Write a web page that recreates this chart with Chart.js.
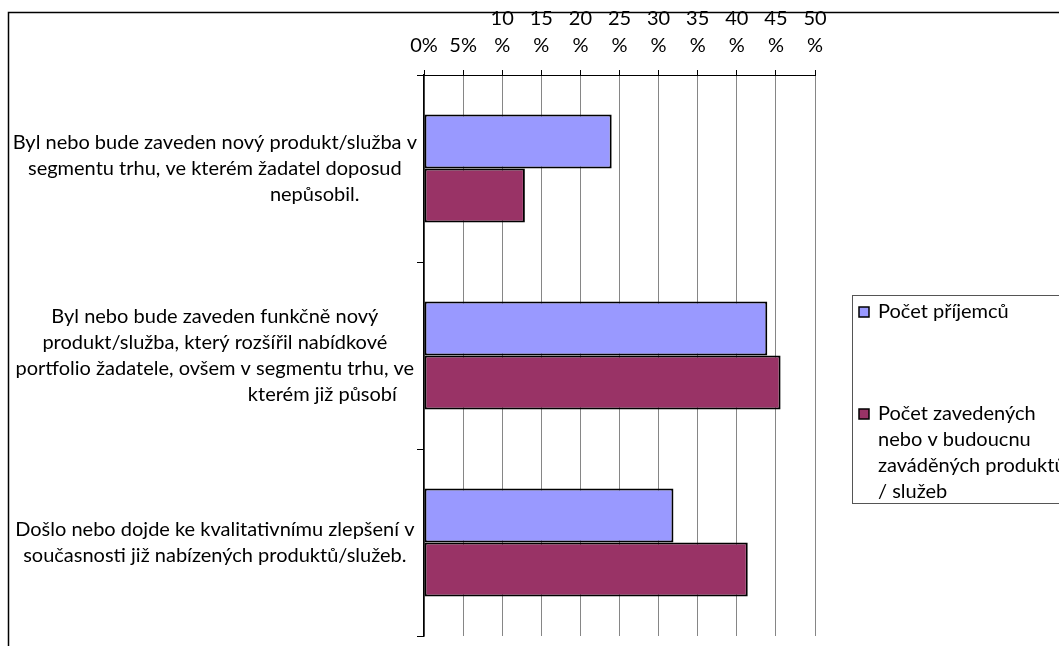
<!DOCTYPE html>
<html>
<head>
<meta charset="utf-8">
<script src="https://cdn.jsdelivr.net/npm/chart.js@4/dist/chart.umd.min.js"></script>
<style>
  body { margin: 0; background: #fff; }
  canvas { display: block; }
</style>
</head>
<body>
<canvas id="myChart" width="1059" height="646"></canvas>
<script>
/*--------------------------------------------------------------------------------
----- DATA
--------------------------------------------------------------------------------*/

const categories = [
  ['Byl nebo bude zaveden nový produkt/služba v', 'segmentu trhu, ve kterém žadatel doposud', 'nepůsobil.'],
  ['Byl nebo bude zaveden funkčně nový', 'produkt/služba, který rozšířil nabídkové', 'portfolio žadatele, ovšem v segmentu trhu, ve', 'kterém již působí'],
  ['Došlo nebo dojde ke kvalitativnímu zlepšení v', 'současnosti již nabízených produktů/služeb.']
];

const seriesNames = [
  ['Počet příjemců'],
  ['Počet zavedených', 'nebo v budoucnu', 'zaváděných produktů', '/ služeb']
];

const prijemci = [24.0, 43.9, 31.9];
const produkty = [12.9, 45.6, 41.4];

const xTickValues = [0, 5, 10, 15, 20, 25, 30, 35, 40, 45, 50];
const xTickLabels = ['0%', '5%', ['10', '%'], ['15', '%'], ['20', '%'], ['25', '%'], ['30', '%'], ['35', '%'], ['40', '%'], ['45', '%'], ['50', '%']];

const FONT = 'Lato';
const FSIZE = 20;

// the wrapped last line of some labels sits right of the block centre (as in the original)
const lastLineShift = [100, 108, 0];

const measure = document.createElement('canvas').getContext('2d');
measure.font = FSIZE + 'px ' + FONT;
const spaceW = measure.measureText(' ').width;

function categoryLabel(i) {
  const lines = categories[i].slice();
  const n = Math.round(2 * lastLineShift[i] / spaceW);
  lines[lines.length - 1] = ' '.repeat(n) + lines[lines.length - 1];
  return lines;
}


// frame around the whole chart + legend on the right
const framePlugin = {
  id: 'frame',
  beforeDraw(chart) {
    const c = chart.ctx;
    c.save();
    c.fillStyle = '#fff';
    c.fillRect(0, 0, chart.width, chart.height);
    c.strokeStyle = '#000';
    c.lineWidth = 1.5;
    c.strokeRect(8.5, 12.5, chart.width + 20, chart.height + 20);
    c.restore();
  },
  afterDraw(chart) {
    const c = chart.ctx;
    c.save();
    c.strokeStyle = '#555';
    c.lineWidth = 1;
    c.strokeRect(852.5, 295.5, 260, 208);
    c.font = FSIZE + 'px ' + FONT;
    c.textBaseline = 'middle';
    const itemTop = [312, 414];
    chart.data.datasets.forEach((ds, i) => {
      const y = itemTop[i];
      c.fillStyle = ds.backgroundColor;
      c.fillRect(859, y - 5, 10, 10);
      c.strokeStyle = '#000';
      c.lineWidth = 1.5;
      c.strokeRect(859, y - 5, 10, 10);
      c.fillStyle = '#000';
      seriesNames[i].forEach((line, j) => {
        c.fillText(line, 878, y + j * 26);
      });
    });
    c.restore();
  }
};


const ctx = document.getElementById('myChart');

new Chart(ctx, {
  type: 'bar',
  data: {
    labels: categories.map((c, i) => categoryLabel(i)),
    datasets: [{
      label: seriesNames[0].join(' '),
      data: prijemci,
      backgroundColor: '#9999ff',
      borderColor: '#000',
      borderWidth: 2,
      borderSkipped: false
    }, {
      label: seriesNames[1].join(' '),
      data: produkty,
      backgroundColor: '#993366',
      borderColor: '#000',
      borderWidth: 2,
      borderSkipped: false
    }]
  },
  options: {
    indexAxis: 'y',
    responsive: false,
    animation: false,
    devicePixelRatio: 1,
    categoryPercentage: 0.578,
    barPercentage: 1.0,
    layout: { padding: { left: 0, top: 0, right: 244, bottom: 10 } },
    plugins: {
      legend: { display: false },
      tooltip: { enabled: false }
    },
    scales: {
      x: {
        position: 'top',
        min: 0,
        max: 50,
        afterBuildTicks: (scale) => { scale.ticks = xTickValues.map(v => ({ value: v })); },
        afterFit: (scale) => { scale.height = 75; scale.paddingLeft = 0; scale.paddingRight = 0; },
        grid: { color: '#868686', tickColor: '#000', tickLength: 5, lineWidth: 1 },
        border: { color: '#000', width: 1 },
        ticks: {
          color: '#000',
          padding: 11,
          maxRotation: 0,
          autoSkip: false,
          font: { family: FONT, size: FSIZE, lineHeight: '27px' },
          callback: (v, i) => xTickLabels[i]
        }
      },
      y: {
        afterFit: (scale) => { scale.width = 424; scale.paddingTop = 0; scale.paddingBottom = 0; },
        grid: { drawOnChartArea: false, tickColor: '#000', tickLength: 7 },
        border: { color: '#000', width: 1.5 },
        ticks: {
          color: '#000',
          padding: 0,
          crossAlign: 'center',
          autoSkip: false,
          font: { family: FONT, size: FSIZE, lineHeight: '26px' }
        }
      }
    }
  },
  plugins: [framePlugin]
});
</script>
</body>
</html>
